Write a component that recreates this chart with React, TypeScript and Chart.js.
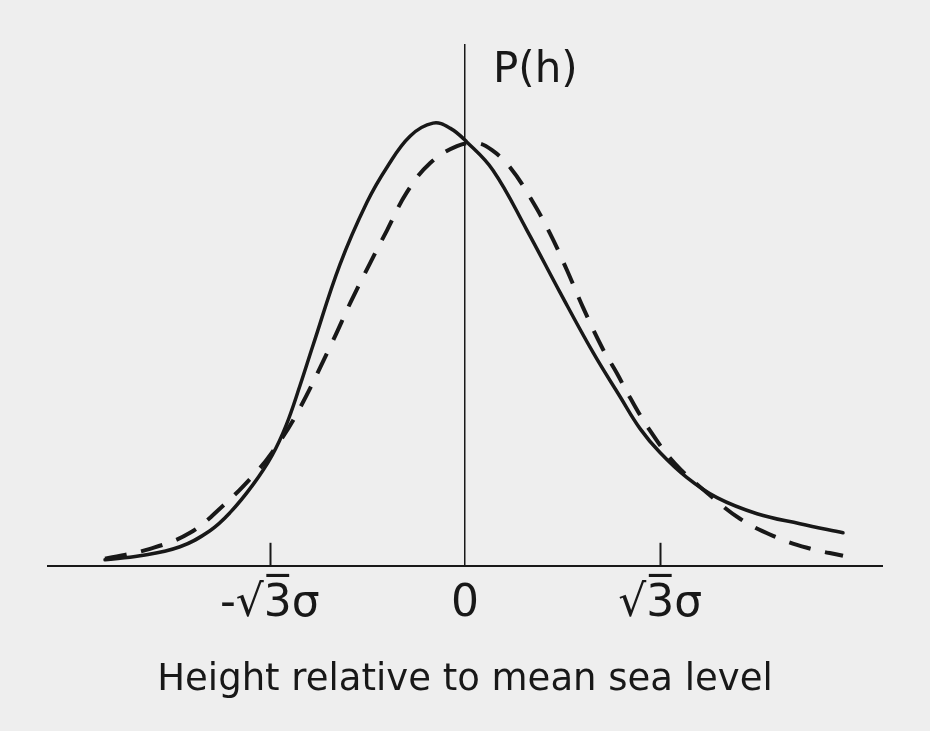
import React, { useEffect, useRef } from 'react';
import { Chart, registerables } from 'chart.js';

Chart.register(...registerables);

// Height in units of sigma
const SQRT3 = Math.sqrt(3);
const tickValues = [-SQRT3, 0, SQRT3];
const tickLabels = ['-\u221A3\u0305\u03C3', '0', '\u221A3\u0305\u03C3'];

const xAxisTitle = 'Height relative to mean sea level';
const yAxisTitle = 'P(h)';

// Solid curve (observed, skewed distribution)
const solidH = [-3.194, -2.884, -2.529, -2.263, -2.085, -1.881, -1.713, -1.588, -1.464, -1.349, -1.109, -0.87, -0.692, -0.488, -0.284, -0.133, 0.018, 0.248, 0.55, 0.843, 1.136, 1.375, 1.553, 1.73, 1.97, 2.236, 2.591, 2.972, 3.354];
const solidP = [0.0058, 0.0096, 0.0183, 0.0337, 0.051, 0.0779, 0.1058, 0.1346, 0.1731, 0.2115, 0.2894, 0.349, 0.3827, 0.4125, 0.425, 0.4202, 0.4067, 0.3798, 0.3221, 0.2625, 0.2048, 0.1625, 0.1317, 0.1087, 0.0846, 0.0654, 0.05, 0.0404, 0.0317];

// Dashed curve (Gaussian)
const dashedH = [-3.194, -2.795, -2.44, -2.147, -1.881, -1.713, -1.491, -1.171, -1.02, -0.843, -0.692, -0.515, -0.311, -0.071, 0.106, 0.24, 0.399, 0.577, 0.754, 0.905, 1.047, 1.216, 1.349, 1.464, 1.642, 1.863, 2.147, 2.44, 2.733, 3.035, 3.354];
const dashedP = [0.0067, 0.0163, 0.0317, 0.0577, 0.0865, 0.1087, 0.1462, 0.2163, 0.2519, 0.2904, 0.3221, 0.3587, 0.3865, 0.4029, 0.4058, 0.399, 0.3827, 0.3538, 0.3192, 0.2837, 0.2481, 0.2096, 0.1846, 0.1615, 0.1298, 0.0981, 0.0702, 0.0452, 0.0288, 0.0173, 0.0096];

const INK = '#181818';
const BG = '#eeeeee';

const decorPlugin = {
  id: 'decor',
  afterDraw(chart: any) {
    const { ctx, scales } = chart;
    const x = scales.x;
    const y = scales.y;
    const base = y.getPixelForValue(0);
    ctx.save();
    ctx.strokeStyle = INK;
    ctx.lineWidth = 2;
    [tickValues[0], tickValues[2]].forEach((v) => {
      const px = Math.round(x.getPixelForValue(v)) + 0.5;
      ctx.beginPath();
      ctx.moveTo(px, base);
      ctx.lineTo(px, base - 23);
      ctx.stroke();
    });
    ctx.fillStyle = INK;
    ctx.font = '42px "DejaVu Sans"';
    ctx.textAlign = 'left';
    ctx.textBaseline = 'middle';
    ctx.fillText(yAxisTitle, x.getPixelForValue(0) + 28, y.getPixelForValue(0.475));
    ctx.restore();
  },
};

export default function App() {
  const ref = useRef<HTMLCanvasElement | null>(null);

  useEffect(() => {
    document.body.style.margin = '0';
    document.body.style.background = BG;
    const canvas = ref.current;
    if (!canvas) return;
    const chart = new Chart(canvas, {
      type: 'scatter',
      data: {
        datasets: [
          {
            label: 'observed',
            data: solidH.map((h, i) => ({ x: h, y: solidP[i] })),
            showLine: true,
            borderColor: INK,
            borderWidth: 3.5,
            pointRadius: 0,
            tension: 0.4,
            borderCapStyle: 'round',
          },
          {
            label: 'gaussian',
            data: dashedH.map((h, i) => ({ x: h, y: dashedP[i] })),
            showLine: true,
            borderColor: INK,
            borderWidth: 4,
            borderDash: [22, 15],
            pointRadius: 0,
            tension: 0.4,
          },
        ],
      },
      plugins: [decorPlugin],
      options: {
        animation: false,
        responsive: false,
        layout: { padding: { left: 48, right: 48, top: 45, bottom: 28 } },
        plugins: {
          legend: { display: false },
          tooltip: { enabled: false },
        },
        scales: {
          x: {
            type: 'linear',
            min: -3.7,
            max: 3.7,
            afterBuildTicks: (scale: any) => {
              scale.ticks = tickValues.map((v) => ({ value: v }));
            },
            grid: { display: false, drawTicks: false },
            border: { display: true, color: INK, width: 2 },
            ticks: {
              color: INK,
              font: { family: '"DejaVu Sans"', size: 44 },
              padding: 12,
              maxRotation: 0,
              autoSkip: false,
              callback: (value: any) => {
                const i = tickValues.findIndex((t) => Math.abs(t - Number(value)) < 1e-6);
                return i >= 0 ? tickLabels[i] : '';
              },
            },
            title: {
              display: true,
              text: xAxisTitle,
              color: INK,
              font: { family: '"DejaVu Sans"', size: 37 },
              padding: { top: 16, bottom: 0 },
            },
          },
          y: {
            type: 'linear',
            min: 0,
            max: 0.5,
            position: { x: 0 } as any,
            grid: { display: false, drawTicks: false },
            border: { display: true, color: INK, width: 1.5 },
            ticks: { display: false },
          },
        },
      },
    } as any);
    return () => chart.destroy();
  }, []);

  return (
    <div style={{ width: 930, height: 731, background: BG }}>
      <canvas ref={ref} width={930} height={731} style={{ display: 'block' }} />
    </div>
  );
}
